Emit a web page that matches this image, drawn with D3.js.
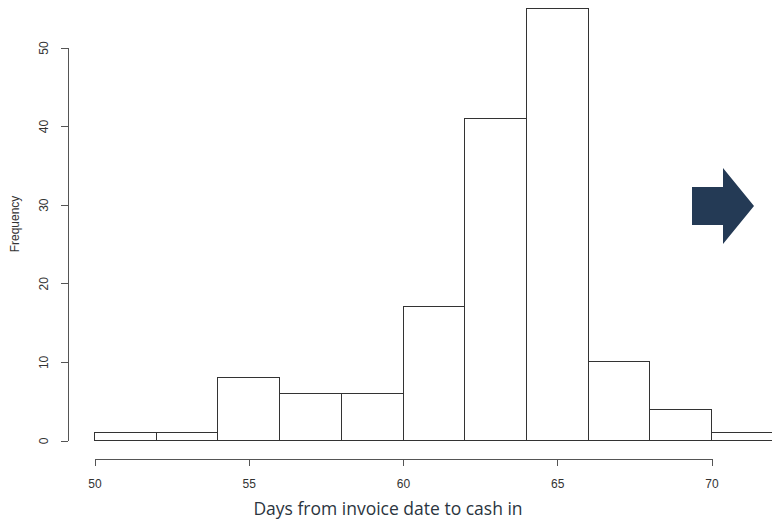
<!DOCTYPE html>
<html>
<head>
<meta charset="utf-8">
<style>
  body { margin: 0; background: #fff; }
  svg { display: block; }
  .axis text { font-family: "Liberation Sans", Arial, sans-serif; font-size: 12px; fill: #333; }
  .axis path, .axis line { stroke: #555; shape-rendering: crispEdges; }
</style>
</head>
<body>
<div id="chart"></div>
<script src="https://cdn.jsdelivr.net/npm/d3@7"></script>
<script>
  // histogram bins (days) and counts
  var binStarts = [50, 52, 54, 56, 58, 60, 62, 64, 66, 68, 70];
  var binWidth = 2;
  var counts = [1, 1, 8, 6, 6, 17, 41, 55, 10, 4, 1];
  var xTicks = [50, 55, 60, 65, 70];
  var yTicks = [0, 10, 20, 30, 40, 50];

  var width = 772, height = 520;

  var svg = d3.select("#chart")
    .append("svg")
    .attr("width", width)
    .attr("height", height);

  var x = d3.scaleLinear()
    .domain([50, 70])
    .range([94, 711]);

  var y = d3.scaleLinear()
    .domain([0, 50])
    .range([440, 47]);

  var bins = binStarts.map(function(s, i) {
    return { x0: s, x1: s + binWidth, n: counts[i] };
  });

  // bars
  svg.append("g")
    .selectAll("rect")
    .data(bins)
    .enter()
    .append("rect")
    .attr("x", function(d) { return Math.round(x(d.x0)) + 0.5; })
    .attr("y", function(d) { return Math.round(y(d.n)) + 0.5; })
    .attr("width", function(d) { return Math.round(x(d.x1)) - Math.round(x(d.x0)); })
    .attr("height", function(d) { return Math.round(y(0)) - Math.round(y(d.n)); })
    .style("fill", "#fff")
    .style("stroke", "#333")
    .style("stroke-width", 1);

  // x axis
  svg.append("g")
    .attr("class", "axis")
    .attr("transform", "translate(0.5,458.5)")
    .call(d3.axisBottom(x).tickValues(xTicks).tickSize(7).tickSizeOuter(0).tickPadding(14));

  // y axis
  svg.append("g")
    .attr("class", "axis")
    .attr("transform", "translate(67.5,0.5)")
    .call(d3.axisLeft(y).tickValues(yTicks).tickSize(7).tickSizeOuter(0))
    .selectAll("text")
    .attr("x", null)
    .attr("dy", null)
    .style("text-anchor", "middle")
    .attr("transform", "translate(-20,0) rotate(-90)");

  // axis titles
  svg.append("text")
    .attr("transform", "translate(19,224) rotate(-90)")
    .style("text-anchor", "middle")
    .style("font-family", "Liberation Sans, Arial, sans-serif")
    .style("font-size", "12px")
    .style("fill", "#333")
    .text("Frequency");

  svg.append("text")
    .attr("x", 388)
    .attr("y", 515)
    .style("text-anchor", "middle")
    .style("font-family", "Open Sans, sans-serif")
    .style("font-size", "17.5px")
    .style("fill", "#2b3540")
    .text("Days from invoice date to cash in");

  // navigation arrow
  svg.append("path")
    .attr("d", "M692,187 L723,187 L723,168 L754,206 L723,244 L723,225 L692,225 Z")
    .style("fill", "#243a55");
</script>
</body>
</html>
